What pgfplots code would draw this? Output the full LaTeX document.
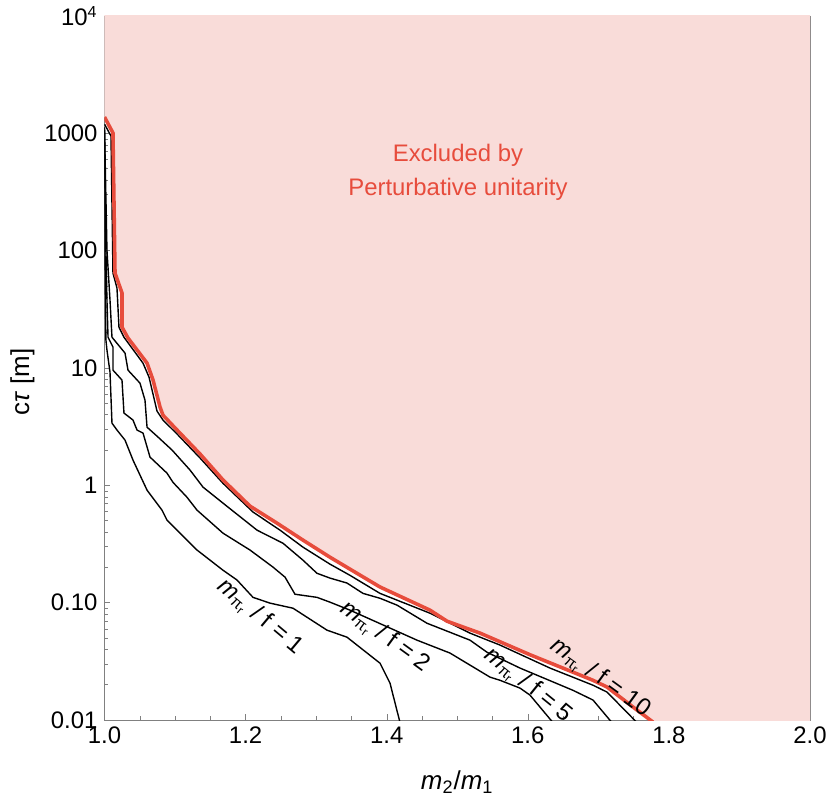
\documentclass[border=0pt]{standalone}
\usepackage{fontspec}
\setmainfont{Liberation Sans}
\usepackage{pgfplots}
\pgfplotsset{compat=1.18}
\definecolor{exclfill}{RGB}{249,220,217}
\definecolor{exclline}{RGB}{231,76,60}
\definecolor{framegray}{RGB}{128,128,128}

\begin{document}
\begin{tikzpicture}
\begin{axis}[
  width=352.75bp, height=352bp, scale only axis,
  xmin=1, xmax=2, ymin=0.01, ymax=10000,
  ymode=log,
  axis line style={framegray},
  tick style={framegray},
  tick align=inside,
  major tick length=3bp, minor tick length=2bp,
  xtick={1,1.2,1.4,1.6,1.8,2},
  xticklabels={1.0,1.2,1.4,1.6,1.8,2.0},
  minor x tick num=3,
  ytick={0.01,0.1,1,10,100,1000,10000},
  yticklabels={0.01,0.10,1,10,100,1000,10\textsuperscript{4}},
  tick label style={font=\fontsize{12}{14}\selectfont, black},
  xlabel={\textit{m}\textsubscript{2}/\textit{m}\textsubscript{1}},
  ylabel={c\textit{τ} [m]},
  every axis x label/.style={at={(rel axis cs:0.5,0)}, yshift=-31bp, anchor=center,
    font=\fontsize{13}{15}\selectfont},
  every axis y label/.style={at={(rel axis cs:0,0.48)}, xshift=-41bp, rotate=90, anchor=center,
    font=\fontsize{13}{15}\selectfont},
]
% excluded region
\addplot[fill=exclfill, draw=none] coordinates {
  (1.0,1377) (1.012,1007) (1.0149,64.4) (1.0248,43.6) (1.0248,22.3) (1.0333,18.0)
  (1.0603,11.0) (1.0688,7.89) (1.0787,4.65) (1.0829,3.96) (1.1028,2.96) (1.1354,1.85)
  (1.168,1.11) (1.2062,0.665) (1.2445,0.476) (1.2814,0.341) (1.3196,0.244) (1.348,0.193)
  (1.3905,0.136) (1.4614,0.0863) (1.4855,0.0695) (1.5323,0.055) (1.6031,0.036)
  (1.6924,0.0218) (1.7123,0.0191) (1.7491,0.0129) (1.7775,0.0096)
  (2.05,0.0096) (2.05,12000) (0.99,12000) (0.99,1377)
};
% m/f = 1
\addplot[black, line width=0.7pt] coordinates {
  (1.0,1067) (1.0007,101) (1.002,17.3) (1.0035,14.2) (1.0078,9.23) (1.0106,3.39)
  (1.0177,2.96) (1.0291,2.43) (1.0404,1.64) (1.0603,0.91) (1.0815,0.615) (1.0886,0.505)
  (1.1311,0.281) (1.168,0.189) (1.1878,0.156) (1.2105,0.111) (1.2346,0.0991)
  (1.2672,0.0897) (1.3154,0.0583) (1.3437,0.0508) (1.3905,0.0305) (1.4047,0.0206)
  (1.4189,0.0095)
};
% m/f = 2
\addplot[black, line width=0.7pt] coordinates {
  (1.0,1109) (1.002,101) (1.0035,37.9) (1.005,18.3) (1.012,15.1) (1.012,9.59)
  (1.0248,7.89) (1.0276,4.13) (1.0404,3.60) (1.0461,2.96) (1.0546,2.79) (1.0645,1.74)
  (1.0886,1.27) (1.0971,1.06) (1.1169,0.792) (1.1311,0.615) (1.168,0.391) (1.2062,0.281)
  (1.2388,0.201) (1.2559,0.165) (1.27,0.118) (1.3012,0.111) (1.3196,0.101) (1.348,0.0863)
  (1.443,0.0479) (1.4897,0.0372) (1.5464,0.0232) (1.5606,0.0218) (1.589,0.0187)
  (1.6031,0.0163) (1.6357,0.0095)
};
% m/f = 5
\addplot[black, line width=0.7pt] coordinates {
  (1.0,1132) (1.0035,101) (1.0078,37.9) (1.0106,18.3) (1.0291,13.4) (1.0333,9.59)
  (1.0503,7.43) (1.0574,5.32) (1.0603,3.13) (1.0758,2.58) (1.0957,2.00) (1.1212,1.35)
  (1.1396,0.966) (1.168,0.705) (1.2162,0.415) (1.253,0.321) (1.2814,0.230) (1.3012,0.178)
  (1.3196,0.162) (1.3437,0.147) (1.3664,0.120) (1.3905,0.109) (1.4146,0.0953)
  (1.4571,0.0668) (1.5181,0.0479) (1.5422,0.0378) (1.589,0.0277) (1.6641,0.0179)
  (1.6924,0.0148) (1.7193,0.0095)
};
% m/f = 10
\addplot[black, line width=0.7pt] coordinates {
  (1.0,1199) (1.0092,948) (1.012,64.4) (1.0177,48.0) (1.0205,22.3) (1.0276,18.3)
  (1.0546,11.0) (1.0631,8.36) (1.0744,4.30) (1.0829,3.60) (1.1028,2.74) (1.1354,1.71)
  (1.168,1.04) (1.2105,0.592) (1.2488,0.415) (1.2814,0.297) (1.3196,0.213) (1.348,0.171)
  (1.3905,0.120) (1.4614,0.0813) (1.5181,0.055) (1.5606,0.0435) (1.6315,0.0277)
  (1.6924,0.0198) (1.7123,0.0173) (1.7548,0.0095)
};
% perturbative unitarity boundary
\addplot[exclline, line width=1.8pt] coordinates {
  (1.0,1377) (1.012,1007) (1.0149,64.4) (1.0248,43.6) (1.0248,22.3) (1.0333,18.0)
  (1.0603,11.0) (1.0688,7.89) (1.0787,4.65) (1.0829,3.96) (1.1028,2.96) (1.1354,1.85)
  (1.168,1.11) (1.2062,0.665) (1.2445,0.476) (1.2814,0.341) (1.3196,0.244) (1.348,0.193)
  (1.3905,0.136) (1.4614,0.0863) (1.4855,0.0695) (1.5323,0.055) (1.6031,0.036)
  (1.6924,0.0218) (1.7123,0.0191) (1.7491,0.0129) (1.7775,0.0096)
};
\node[align=center, text=exclline, font=\fontsize{12}{17}\selectfont] at (axis cs:1.501,468)
  {Excluded by\\Perturbative unitarity};
\node[rotate=-40, font=\fontsize{12}{14}\selectfont] at (axis cs:1.2204,0.0752)
  {\textit{m}\textsubscript{π\textsubscript{r}} / f = 1};
\node[rotate=-36, font=\fontsize{12}{14}\selectfont] at (axis cs:1.3976,0.0508)
  {\textit{m}\textsubscript{π\textsubscript{r}} / f = 2};
\node[rotate=-39, font=\fontsize{12}{14}\selectfont] at (axis cs:1.6003,0.0198)
  {\textit{m}\textsubscript{π\textsubscript{r}} / f = 5};
\node[rotate=-36, font=\fontsize{12}{14}\selectfont] at (axis cs:1.7023,0.0227)
  {\textit{m}\textsubscript{π\textsubscript{r}} / f = 10};
\end{axis}
\pgfresetboundingbox
\path[use as bounding box] (-52.25bp,-39.5bp) rectangle (362.75bp,360bp);
\end{tikzpicture}
\end{document}
